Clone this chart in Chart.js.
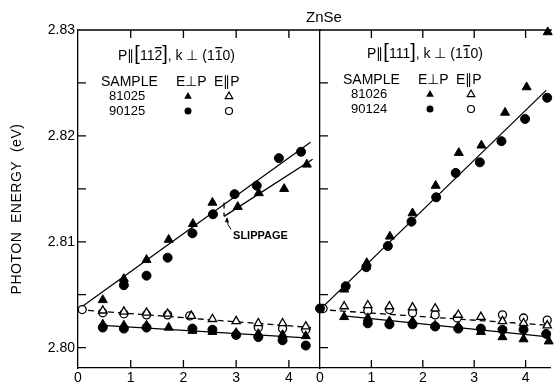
<!DOCTYPE html>
<html>
<head>
<meta charset="utf-8">
<script src="https://cdn.jsdelivr.net/npm/chart.js@4.4.1/dist/chart.umd.min.js"></script>
<style>
  body { margin: 0; background: #fff; }
  .wrap { position: relative; width: 557px; height: 383px; }
  canvas { position: absolute; left: 0; top: 0; }
</style>
</head>
<body>
<div class="wrap">
  <canvas id="left" width="557" height="383"></canvas>
  <canvas id="right" width="557" height="383"></canvas>
</div>
<script>
// axes
const xTicks = [0, 1, 2, 3, 4];
const yMajor = [2.80, 2.81, 2.82, 2.83];
const yMinor = [2.805, 2.815, 2.825];

// left panel: P || [11-2], samples 81025 (triangles) / 90125 (circles)
const l81025PerpX = [0.47, 0.87, 1.30, 1.72, 2.18, 2.55, 3.03, 3.43, 3.91, 4.34, 0.47, 0.87, 1.30, 1.72, 2.17, 2.55, 3.00, 3.42, 3.88, 4.32];
const l81025PerpY = [2.8045, 2.8065, 2.8083, 2.8102, 2.8117, 2.8137, 2.8133, 2.8146, 2.8150, 2.8173, 2.8022, 2.8021, 2.8021, 2.8019, 2.8016, 2.8015, 2.8014, 2.8013, 2.8012, 2.8011];
const l90125PerpX = [0.87, 1.30, 1.70, 2.17, 2.56, 2.97, 3.39, 3.81, 4.23, 0.47, 0.87, 1.30, 2.17, 2.55, 3.00, 3.42, 3.88, 4.32];
const l90125PerpY = [2.8059, 2.8068, 2.8085, 2.8108, 2.8126, 2.8145, 2.8153, 2.8179, 2.8185, 2.8019, 2.8018, 2.8019, 2.8018, 2.8017, 2.8012, 2.8010, 2.8007, 2.8002];
const l81025ParX = [0.47, 0.87, 1.30, 1.70, 2.15, 2.55, 3.00, 3.42, 3.88, 4.32];
const l81025ParY = [2.8035, 2.8034, 2.8033, 2.8032, 2.8030, 2.8027, 2.8025, 2.8023, 2.8023, 2.8020];
const l90125ParX = [0.08, 0.47, 0.87, 1.30, 1.70, 2.12, 3.42, 3.88, 4.32];
const l90125ParY = [2.8036, 2.8033, 2.8032, 2.8031, 2.8031, 2.8030, 2.8019, 2.8018, 2.8017];

// left panel fitted lines
const lUpperX = [0, 4.41], lUpperY = [2.8036, 2.8194];
const lSlipX = [2.77, 4.45], lSlipY = [2.8124, 2.8178];
const slipX = [2.77, 2.77], slipY = [2.8137, 2.8124];
const lDashX = [0, 4.42], lDashY = [2.8036, 2.8019];
const lLowX = [0.47, 4.40], lLowY = [2.8021, 2.8009];

// right panel: P || [111], samples 81026 (triangles) / 90124 (circles)
const r81026PerpX = [0.47, 0.91, 1.36, 1.80, 2.25, 2.70, 3.14, 3.60, 4.02, 4.43, 0.47, 0.93, 1.35, 1.80, 2.24, 2.69, 3.13, 3.55, 3.96, 4.45];
const r81026PerpY = [2.8055, 2.8080, 2.8105, 2.8127, 2.8153, 2.8184, 2.8191, 2.8222, 2.8246, 2.8298, 2.8029, 2.8028, 2.8025, 2.8025, 2.8021, 2.8020, 2.8015, 2.8010, 2.8008, 2.8006];
const r90124PerpX = [0.00, 0.50, 0.90, 1.32, 1.78, 2.26, 2.64, 3.11, 3.53, 3.99, 4.42, 0.93, 1.35, 1.80, 2.24, 2.69, 3.13, 3.55, 3.96, 4.40];
const r90124PerpY = [2.8037, 2.8058, 2.8076, 2.8096, 2.8119, 2.8142, 2.8165, 2.8175, 2.8195, 2.8216, 2.8236, 2.8023, 2.8022, 2.8022, 2.8020, 2.8018, 2.8018, 2.8017, 2.8017, 2.8013];
const r81026ParX = [0.47, 0.93, 1.35, 1.80, 2.24, 2.69, 3.13, 3.55, 3.96, 4.42];
const r81026ParY = [2.8039, 2.8040, 2.8039, 2.8038, 2.8037, 2.8031, 2.8029, 2.8025, 2.8023, 2.8021];
const r90124ParX = [0.06, 0.93, 1.35, 1.80, 2.24, 2.67, 3.55, 3.96, 4.42];
const r90124ParY = [2.8037, 2.8035, 2.8036, 2.8033, 2.8031, 2.8028, 2.8031, 2.8028, 2.8026];

// right panel fitted lines
const rUpperX = [0, 4.40], rUpperY = [2.8036, 2.8243];
const rDashX = [0, 4.49], rDashY = [2.8036, 2.8021];
const rLowX = [0.47, 4.49], rLowY = [2.8030, 2.8010];

const FONT = '"Liberation Sans", Arial, sans-serif';
Chart.defaults.font.family = FONT;
Chart.defaults.color = '#000';

const pts = (xs, ys) => xs.map((x, i) => ({ x: x, y: ys[i] }));

function markers(xs, ys, style, filled, r) {
  return {
    data: pts(xs, ys), showLine: false, order: filled ? 1 : 2, clip: false,
    pointStyle: style, pointRadius: r, pointHoverRadius: r,
    pointBackgroundColor: filled ? '#000' : '#fff',
    pointBorderColor: '#000', pointBorderWidth: filled ? 1 : 1.3
  };
}
function fit(xs, ys, dashed) {
  return {
    data: pts(xs, ys), showLine: true, pointRadius: 0, order: 5,
    borderColor: '#000', borderWidth: 1.3, borderDash: dashed ? [6, 4] : []
  };
}

function legendMark(ctx, x, y, style, filled) {
  ctx.beginPath();
  if (style === 'triangle') {
    ctx.moveTo(x, y - 4); ctx.lineTo(x + 3.8, y + 2.7); ctx.lineTo(x - 3.8, y + 2.7); ctx.closePath();
  } else {
    ctx.arc(x, y, 3.5, 0, Math.PI * 2);
  }
  if (filled) ctx.fill(); else { ctx.lineWidth = 1.2; ctx.stroke(); }
}

function drawParts(ctx, x, y, parts) {
  parts.forEach(p => {
    ctx.font = p[1] + 'px ' + FONT;
    const w = ctx.measureText(p[0]).width;
    ctx.fillText(p[0], x, y);
    if (p[2]) ctx.fillRect(x + 0.5, y - 13, w - 1, 1.3);
    x += w;
  });
}

const frame = {
  id: 'notes',
  afterDraw(chart, args, o) {
    const ctx = chart.ctx, a = chart.chartArea;
    const sx = chart.scales.x, sy = chart.scales.y;
    ctx.save();
    ctx.strokeStyle = '#000'; ctx.fillStyle = '#000'; ctx.lineWidth = 1.3;
    ctx.beginPath();
    ctx.moveTo(a.left, a.top); ctx.lineTo(a.right + 1, a.top);
    yMajor.concat(yMinor).forEach(v => {
      const p = sy.getPixelForValue(v);
      ctx.moveTo(a.left, p); ctx.lineTo(a.left + 8, p);
    });
    xTicks.slice(1).forEach(v => {
      const p = sx.getPixelForValue(v);
      ctx.moveTo(p, a.bottom); ctx.lineTo(p, a.bottom - 8);
      ctx.moveTo(p, a.top); ctx.lineTo(p, a.top + 8);
    });
    ctx.stroke();

    // header and sample table
    const L = a.left;
    ctx.textBaseline = 'alphabetic'; ctx.textAlign = 'left';
    drawParts(ctx, L + o.headX, o.headY, o.head);
    ctx.font = '14px ' + FONT;
    ctx.textBaseline = 'middle';
    ctx.fillText('SAMPLE', L + 23, o.headY + 22);
    ctx.fillText('E⊥P', L + 98, o.headY + 22);
    ctx.fillText('E∥P', L + 136, o.headY + 22);
    ctx.font = '13px ' + FONT;
    ctx.fillText(o.samples[0], L + 31, o.headY + 36);
    ctx.fillText(o.samples[1], L + 31, o.headY + 51);
    legendMark(ctx, L + 110, o.headY + 36, 'triangle', true);
    legendMark(ctx, L + 151, o.headY + 36, 'triangle', false);
    legendMark(ctx, L + 110, o.headY + 51, 'circle', true);
    legendMark(ctx, L + 151, o.headY + 51, 'circle', false);

    if (o.slip) {
      const ax = sx.getPixelForValue(slipX[1]), ay = sy.getPixelForValue(slipY[1]);
      ctx.lineWidth = 1;
      ctx.beginPath();
      ctx.moveTo(ax + 7, ay + 13);
      ctx.quadraticCurveTo(ax + 3, ay + 9, ax + 3, ay + 2);
      ctx.stroke();
      ctx.beginPath();
      ctx.moveTo(ax + 3, ay + 1); ctx.lineTo(ax + 0.8, ay + 6); ctx.lineTo(ax + 5, ay + 6); ctx.closePath();
      ctx.fill();
      ctx.font = 'bold 11px ' + FONT;
      ctx.fillText('SLIPPAGE', ax + 9, ay + 20);
    }
    ctx.restore();
  }
};

const pageText = {
  id: 'pageText',
  afterDraw(chart) {
    const ctx = chart.ctx;
    ctx.save();
    ctx.fillStyle = '#000';
    ctx.textAlign = 'center'; ctx.textBaseline = 'middle';
    ctx.font = '15px ' + FONT;
    ctx.fillText('ZnSe', 324, 18);
    ctx.translate(17, 209);
    ctx.rotate(-Math.PI / 2);
    ctx.font = '14px ' + FONT;
    ctx.letterSpacing = '0.5px';
    ctx.fillText('PHOTON  ENERGY  (eV)', 0, 0);
    ctx.restore();
  }
};

function panel(id, xMax, datasets, notes, yWidth, rightPad, showY, extra) {
  return new Chart(document.getElementById(id), {
    type: 'scatter',
    data: { datasets: datasets },
    options: {
      responsive: false, animation: false, events: [],
      layout: { padding: { left: 0, top: 30, right: rightPad, bottom: 0 } },
      plugins: { legend: { display: false }, tooltip: { enabled: false }, notes: notes },
      scales: {
        x: {
          type: 'linear', min: 0, max: xMax,
          afterBuildTicks: s => { s.ticks = xTicks.map(v => ({ value: v })); },
          afterFit: s => { s.height = 15; },
          grid: { drawOnChartArea: false, drawTicks: false },
          border: { color: '#000', width: 1.3 },
          ticks: { padding: 2, font: { size: 14 }, callback: v => String(v) }
        },
        y: {
          type: 'linear', min: 2.79808, max: 2.83,
          afterBuildTicks: s => { s.ticks = yMajor.map(v => ({ value: v })); },
          afterFit: s => { s.width = yWidth; },
          grid: { drawOnChartArea: false, drawTicks: false },
          border: { color: '#000', width: 1.3 },
          ticks: { display: showY, padding: 3, font: { size: 14 }, callback: v => v.toFixed(2) }
        }
      }
    },
    plugins: extra
  });
}

panel('left', 4.59, [
  markers(l81025PerpX, l81025PerpY, 'triangle', true, 5.2),
  markers(l90125PerpX, l90125PerpY, 'circle', true, 4.5),
  markers(l81025ParX, l81025ParY, 'triangle', false, 4.8),
  markers(l90125ParX, l90125ParY, 'circle', false, 4),
  fit(lUpperX, lUpperY, false),
  fit(lSlipX, lSlipY, false),
  fit(slipX, slipY, true),
  fit(lDashX, lDashY, true),
  fit(lLowX, lLowY, false)
], {
  headX: 40, headY: 60, slip: true, samples: ['81025', '90125'],
  head: [['P∥', 14], ['[', 20], ['11', 14], ['2', 14, true], [']', 20], [', k ⊥ (1', 14], ['1', 14, true], ['0)', 14]]
}, 78, 237, true, [frame, pageText]);

panel('right', 4.49, [
  markers(r81026PerpX, r81026PerpY, 'triangle', true, 5.2),
  markers(r90124PerpX, r90124PerpY, 'circle', true, 4.5),
  markers(r81026ParX, r81026ParY, 'triangle', false, 4.8),
  markers(r90124ParX, r90124ParY, 'circle', false, 4),
  fit(rUpperX, rUpperY, false),
  fit(rDashX, rDashY, true),
  fit(rLowX, rLowY, false)
], {
  headX: 47, headY: 58, slip: false, samples: ['81026', '90124'],
  head: [['P∥', 14], ['[', 20], ['111', 14], [']', 20], [', k ⊥ (1', 14], ['1', 14, true], ['0)', 14]]
}, 320, 0, false, [frame]);
</script>
</body>
</html>
